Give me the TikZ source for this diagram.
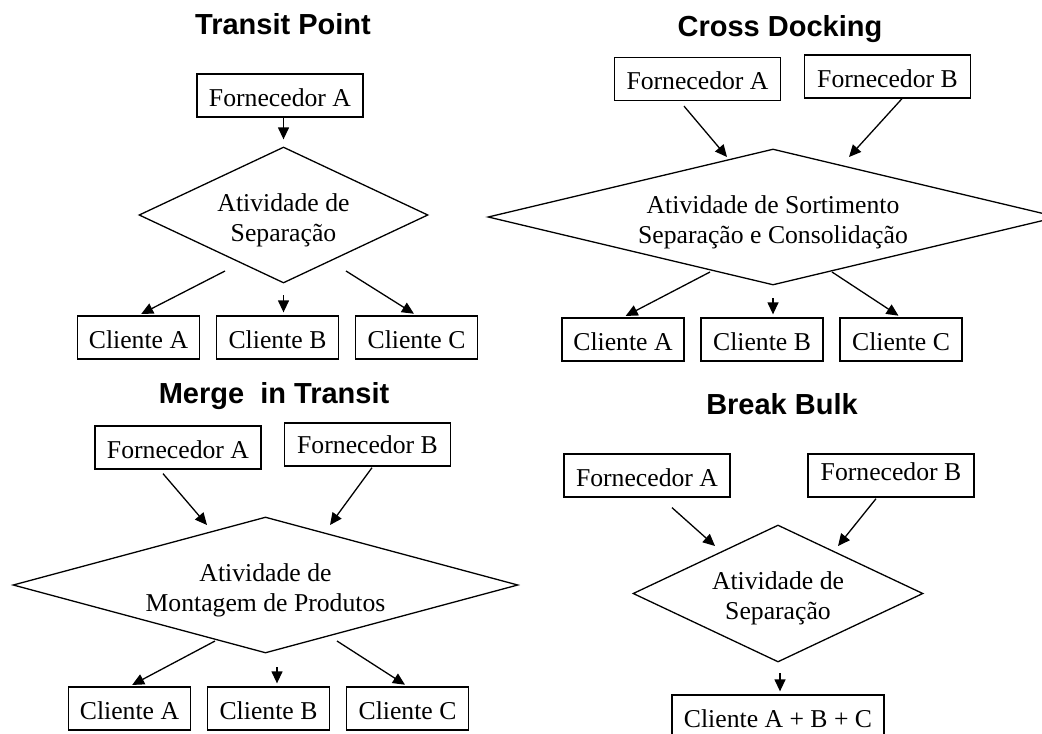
\documentclass[tikz,border=0pt]{standalone}
\usepackage{fontspec}
\setmainfont{Liberation Serif}
\setsansfont{Liberation Sans}
\usepackage{tikz}
\usetikzlibrary{arrows.meta,shapes.geometric,calc}

\newcommand{\topo}{\rule{0pt}{14pt}}

\tikzset{
	caixa/.style={draw,line width=0.65pt,minimum width=83pt,minimum height=21.5pt,inner sep=0pt,text height=11.5pt,text depth=0.5pt},
	cliente/.style={caixa,minimum width=61pt},
	losango/.style={draw,line width=0.65pt,diamond,inner sep=0pt,align=center},
	titulo/.style={font=\sffamily\bfseries\fontsize{14.5}{17}\selectfont,anchor=base},
	seta/.style={->,line width=0.65pt},
	saida/.style={seta,shorten >=1.5pt}
}

\begin{document}
\begin{tikzpicture}[x=0.5pt,y=-0.5pt,>={Triangle[length=6pt,width=5.5pt]},node distance=69.5pt,font=\fontsize{12.85}{15}\selectfont]
	\useasboundingbox (0,0) rectangle (1042,733);
	\clip (0,0) rectangle (1042,733);

	% Transit Point
	\node[titulo] (tpT) at (283,35) {Transit Point};
	\node[caixa] (tpF) at (280,95.5) {Fornecedor A};
	\node[losango,minimum width=144.5pt,minimum height=68pt,aspect=2.1] (tpD) at (283.5,215) {\topo Atividade de\\Separação};
	\node[cliente] (tpA) at (138.5,337.5) {Cliente A};
	\node[cliente] (tpB) [right of=tpA] {Cliente B};
	\node[cliente] (tpC) [right of=tpB] {Cliente C};

	\draw[seta,shorten >=3.5pt] (tpD.north |- tpF.south) -- (tpD.north);
	\draw[saida] ($(tpD)+(-58.5,56)$) -- (tpA.north);
	\draw[saida] ($(tpD)+(0,80)$) -- (tpD |- tpB.north);
	\draw[saida] ($(tpD)+(62.5,56)$) -- (tpC.north);

	% Cross Docking
	\node[titulo] (cdT) at (780,37) {Cross Docking};
	\node[caixa] (cdFA) at (697.5,79) {Fornecedor A};
	\node[caixa] (cdFB) at (887.5,76.5) {Fornecedor B};
	\node[losango,minimum width=285pt,minimum height=68pt,aspect=4.2] (cdD) at (773,217) {\topo Atividade de Sortimento\\Separação e Consolidação};
	\node[cliente] (cdA) at (623,339.5) {Cliente A};
	\node[cliente] (cdB) [right of=cdA] {Cliente B};
	\node[cliente] (cdC) [right of=cdB] {Cliente C};

	\draw[seta] ($(cdFA.south)+(-13.5,5)$) -- ($(cdD)+(-46,-60)$);
	\draw[seta] ($(cdFB.south)+(14.5,0)$) -- ($(cdD)+(76,-60)$);
	\draw[saida] ($(cdD)+(-63,55)$) -- (cdA.north);
	\draw[saida] ($(cdD)+(0,81)$) -- (cdD |- cdB.north);
	\draw[saida] ($(cdD)+(59,55)$) -- (cdC.north);

	% Merge in Transit
	\node[titulo] (mtT) at (274,403) {Merge~~in Transit};
	\node[caixa] (mtFA) at (178,447.5) {Fornecedor A};
	\node[caixa,text height=10pt,text depth=1.5pt] (mtFB) at (367.5,444.5) {Fornecedor B};
	\node[losango,minimum width=252.5pt,minimum height=68pt,aspect=3.7] (mtD) at (265.5,585) {\topo Atividade de\\Montagem de Produtos};
	\node[cliente] (mtA) at (129.5,708.5) {Cliente A};
	\node[cliente] (mtB) [right of=mtA] {Cliente B};
	\node[cliente] (mtC) [right of=mtB] {Cliente C};
	\coordinate (mtM) at ($(mtD)+(11.5,82)$);

	\draw[seta] ($(mtFA.south)+(-15,4)$) -- ($(mtD)+(-58.5,-60)$);
	\draw[seta] ($(mtFB.south)+(4.5,1)$) -- ($(mtD)+(64.5,-60)$);
	\draw[saida] ($(mtD)+(-50.5,56)$) -- (mtA.north);
	\draw[saida] (mtM) -- (mtM |- mtB.north);
	\draw[saida] ($(mtD)+(71.5,56)$) -- (mtC.north);

	% Break Bulk
	\node[titulo] (bbT) at (782,414) {Break Bulk};
	\node[caixa] (bbFA) at (647,475.5) {Fornecedor A};
	\node[caixa,text height=7pt,text depth=2.5pt] (bbFB) at (891,475.5) {Fornecedor B};
	\node[losango,minimum width=145pt,minimum height=68.5pt,aspect=2.1] (bbD) at (778,593.5) {\topo Atividade de\\Separação};
	\node[cliente,minimum width=106pt] (bbC) at (778,716.5) {Cliente A + B + C};

	\draw[seta] ($(bbFA.south)+(25,10)$) -- ($(bbD)+(-63,-47.5)$);
	\draw[seta] ($(bbFB.south)+(-15,1)$) -- ($(bbD)+(60,-47.5)$);
	\draw[saida] ($(bbD)+(2,79.5)$) -- ($(bbC.north)+(2,0)$);
\end{tikzpicture}
\end{document}
